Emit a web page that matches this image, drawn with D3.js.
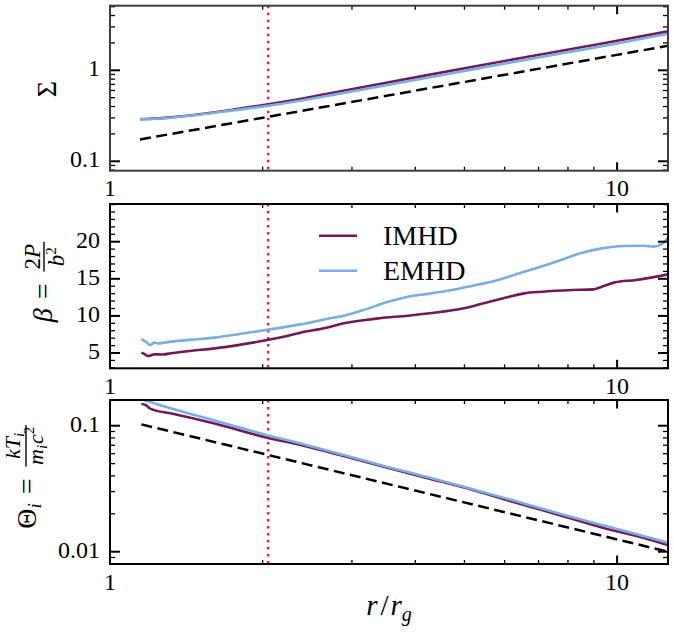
<!DOCTYPE html>
<html><head><meta charset="utf-8">
<script src="https://cdn.jsdelivr.net/npm/d3@7"></script>
<style>
body{margin:0;background:#fff}
svg{display:block}
text{font-family:"Liberation Serif","DejaVu Serif",serif;fill:#000}
</style>
</head><body>
<svg id="c" width="674" height="640" font-family="Liberation Serif, DejaVu Serif, serif"></svg>
<script>
// ---------------- data ----------------
const xMajor = [1, 10];
const xMinor = [2, 3, 4, 5, 6, 7, 8, 9];
const xTickLabels = ["1", "10"];
const rIsco = 2.05;

// Surface density Sigma
const sigmaR    = [1.146, 1.2, 1.3, 1.5, 1.75, 2.05, 2.4, 2.75, 3.4, 4.2, 5.36, 6.5, 8.44, 10, 12.6];
const sigmaIMHD = [0.290, 0.293, 0.302, 0.329, 0.370, 0.423, 0.491, 0.567, 0.708, 0.880, 1.129, 1.372, 1.781, 2.11, 2.68];
const sigmaEMHD = [0.292, 0.291, 0.299, 0.325, 0.363, 0.408, 0.469, 0.537, 0.665, 0.825, 1.057, 1.284, 1.666, 1.973, 2.52];
const sigmaRefR = [1.146, 2.05, 12.6];
const sigmaRef  = [0.174, 0.308, 1.86];
const sigmaMajor = [0.1, 1];
const sigmaMinor = [0.08, 0.09, 0.2, 0.3, 0.4, 0.5, 0.6, 0.7, 0.8, 0.9, 2, 3, 4, 5];
const sigmaTickLabels = ["0.1", "1"];

// Plasma beta
const betaR_IMHD = [1.153, 1.17, 1.188, 1.223, 1.27, 1.33, 1.45, 1.608, 1.8, 2.03, 2.2, 2.377, 2.67, 2.89, 3.19, 3.38, 3.87, 4.27, 4.99, 5.51, 6.07, 6.56, 7.11, 8.15, 8.97, 9.33, 9.89, 10.9, 12.6];
const betaIMHD   = [5.05, 4.85, 4.6, 4.82, 4.8, 5.0, 5.3, 5.63, 6.1, 6.71, 7.2, 7.74, 8.41, 9.0, 9.45, 9.67, 10.03, 10.35, 11.02, 11.78, 12.5, 13.04, 13.26, 13.49, 13.58, 13.94, 14.52, 14.84, 15.6];
const betaR_EMHD = [1.153, 1.176, 1.2, 1.223, 1.245, 1.32, 1.45, 1.608, 1.8, 2.03, 2.377, 2.67, 2.89, 3.19, 3.51, 3.87, 4.27, 4.72, 5.19, 5.73, 6.32, 6.96, 7.68, 8.46, 9.33, 10.3, 11.3, 11.8, 12.3, 12.6];
const betaEMHD   = [6.89, 6.53, 6.08, 6.4, 6.3, 6.53, 6.8, 7.07, 7.55, 8.1, 8.86, 9.58, 10.03, 10.88, 11.83, 12.59, 13.0, 13.49, 14.07, 14.7, 15.6, 16.5, 17.44, 18.43, 19.1, 19.42, 19.46, 19.33, 19.78, 20.54];
const betaMajor = [5, 10, 15, 20];
const betaMinor = [3, 4, 6, 7, 8, 9, 11, 12, 13, 14, 16, 17, 18, 19, 21, 22, 23, 24, 25];
const betaTickLabels = ["5", "10", "15", "20"];

// Ion temperature Theta_i
const thetaR    = [1.153, 1.176, 1.199, 1.223, 1.322, 1.608, 2.05, 2.377, 2.89, 3.51, 4.27, 5.19, 6.32, 7.68, 9.33, 11.35, 12.6];
const thetaIMHD = [0.1486, 0.146, 0.137, 0.133, 0.125, 0.104, 0.080, 0.0703, 0.0575, 0.0467, 0.0380, 0.0309, 0.0245, 0.0196, 0.0156, 0.0128, 0.0113];
const thetaEMHD = [0.162, 0.158, 0.155, 0.151, 0.137, 0.110, 0.0838, 0.0724, 0.0585, 0.0473, 0.0387, 0.0313, 0.0252, 0.0201, 0.0163, 0.0132, 0.0118];
const thetaRefR = [1.153, 2.05, 12.6];
const thetaRef  = [0.1025, 0.0586, 0.0100];
const thetaMajor = [0.01, 0.1];
const thetaMinor = [0.009, 0.02, 0.03, 0.04, 0.05, 0.06, 0.07, 0.08, 0.09];
const thetaTickLabels = ["0.01", "0.1"];

const seriesNames = ["IMHD", "EMHD"];
const colIMHD = "#721a58";
const colEMHD = "#79aee3";
const FONT = "Liberation Serif, DejaVu Serif, serif";

// ---------------- layout ----------------
const svg = d3.select("#c");
const X0 = 110, X1 = 668;
const x = d3.scaleLog().domain([1, 12.6]).range([X0, X1]);

const panels = [
  {id:"p1", top:5.7, bot:170.7, y:d3.scaleLog().domain([0.0788, 5.13]),
   major:sigmaMajor, minor:sigmaMinor, labels:sigmaTickLabels, frame:"#3d3d3d",
   series:[{r:sigmaR, v:sigmaIMHD, c:colIMHD},{r:sigmaR, v:sigmaEMHD, c:colEMHD}],
   ref:{r:sigmaRefR, v:sigmaRef}},
  {id:"p2", top:204, bot:368.3, y:d3.scaleLinear().domain([2.94, 25.08]),
   major:betaMajor, minor:betaMinor, labels:betaTickLabels, frame:"#000",
   series:[{r:betaR_IMHD, v:betaIMHD, c:colIMHD},{r:betaR_EMHD, v:betaEMHD, c:colEMHD}]},
  {id:"p3", top:400, bot:564, y:d3.scaleLog().domain([0.00799, 0.16]),
   major:thetaMajor, minor:thetaMinor, labels:thetaTickLabels, frame:"#000",
   series:[{r:thetaR, v:thetaIMHD, c:colIMHD},{r:thetaR, v:thetaEMHD, c:colEMHD}],
   ref:{r:thetaRefR, v:thetaRef}}
];

const defs = svg.append("defs");

panels.forEach(p => {
  const y = p.y.range([p.bot, p.top]);
  defs.append("clipPath").attr("id", "clip-" + p.id)
    .append("rect").attr("x", X0).attr("y", p.top).attr("width", X1 - X0).attr("height", p.bot - p.top);
  const g = svg.append("g");
  const cg = g.append("g").attr("clip-path", "url(#clip-" + p.id + ")");

  cg.append("line").attr("x1", x(rIsco)).attr("x2", x(rIsco)).attr("y1", p.top).attr("y2", p.bot)
    .attr("stroke", "#ff1e1e").attr("stroke-width", 2.4).attr("stroke-dasharray", "2.6 4.4");

  if (p.ref) {
    const line = d3.line().x((d,i) => x(p.ref.r[i])).y(d => y(d));
    cg.append("path").attr("d", line(p.ref.v)).attr("fill", "none")
      .attr("stroke", "#000").attr("stroke-width", 2.5).attr("stroke-dasharray", "11 5.5");
  }
  p.series.forEach(s => {
    const line = d3.line().x((d,i) => x(s.r[i])).y(d => y(d)).curve(d3.curveMonotoneX);
    cg.append("path").attr("d", line(s.v)).attr("fill", "none")
      .attr("stroke", s.c).attr("stroke-width", 2.6).attr("stroke-linejoin", "round");
  });

  const tk = g.append("g").attr("stroke", "#000");
  const yd = y.domain();
  const inY = v => v >= Math.min(...yd) && v <= Math.max(...yd);
  const addY = (vals, len, w) => vals.filter(inY).forEach(v => {
    tk.append("line").attr("x1", X0).attr("x2", X0 + len).attr("y1", y(v)).attr("y2", y(v)).attr("stroke-width", w);
    tk.append("line").attr("x1", X1 - len).attr("x2", X1).attr("y1", y(v)).attr("y2", y(v)).attr("stroke-width", w);
  });
  const addX = (vals, len, w) => vals.forEach(v => {
    tk.append("line").attr("x1", x(v)).attr("x2", x(v)).attr("y1", p.bot).attr("y2", p.bot - len).attr("stroke-width", w);
    tk.append("line").attr("x1", x(v)).attr("x2", x(v)).attr("y1", p.top).attr("y2", p.top + len).attr("stroke-width", w);
  });
  addY(p.major, 10, 2); addY(p.minor, 5, 1.3);
  addX(xMajor, 8.5, 2); addX(xMinor, 4, 1.3);

  g.append("rect").attr("x", X0).attr("y", p.top).attr("width", X1 - X0).attr("height", p.bot - p.top)
    .attr("fill", "none").attr("stroke", p.frame).attr("stroke-width", 2);

  p.major.forEach((v,i) => {
    g.append("text").attr("x", X0 - 10).attr("y", y(v) + 6).attr("text-anchor", "end")
      .attr("font-family", FONT).attr("font-size", 24).text(p.labels[i]);
  });
  xMajor.forEach((v,i) => {
    g.append("text").attr("x", x(v)).attr("y", p.bot + 25.5).attr("text-anchor", "middle")
      .attr("font-family", FONT).attr("font-size", 24).text(xTickLabels[i]);
  });
});

// ---------------- legend ----------------
const lg = svg.append("g");
[[colIMHD, 235.7, 245], [colEMHD, 270.7, 280]].forEach((d,i) => {
  lg.append("line").attr("x1", 319).attr("x2", 357).attr("y1", d[1]).attr("y2", d[1])
    .attr("stroke", d[0]).attr("stroke-width", 2.6);
  lg.append("text").attr("x", 383).attr("y", d[2]).attr("font-family", FONT).attr("font-size", 28).text(seriesNames[i]);
});

// ---------------- axis labels ----------------
svg.append("g").attr("transform", "translate(56,89) rotate(-90)")
  .append("text").attr("text-anchor", "middle").attr("font-family", FONT).attr("font-size", 28).text("Σ");

// helper: lay out [lhs] = [fraction] horizontally, then rotate
function fracLabel(tx, cy, buildLhs, buildNum, buildDen, opt) {
  const outer = svg.append("g").attr("transform", "translate(" + tx + "," + cy + ") rotate(-90)");
  const g = outer.append("g").attr("font-family", FONT);
  const lhs = g.append("text").attr("font-size", 28);
  buildLhs(lhs);
  let w = lhs.node().getComputedTextLength() + opt.gap1;
  const eq = g.append("text").attr("font-size", 28).attr("x", w).text("=");
  w += eq.node().getComputedTextLength() + opt.gap2;
  const num = g.append("text").attr("font-size", opt.fs).attr("text-anchor", "middle").attr("y", opt.numY);
  buildNum(num);
  const den = g.append("text").attr("font-size", opt.fs).attr("text-anchor", "middle").attr("y", opt.denY);
  buildDen(den);
  const fw = Math.max(num.node().getComputedTextLength(), den.node().getComputedTextLength()) + 4;
  num.attr("x", w + fw/2); den.attr("x", w + fw/2);
  g.append("line").attr("x1", w).attr("x2", w + fw).attr("y1", opt.barY).attr("y2", opt.barY)
    .attr("stroke", "#000").attr("stroke-width", 1.4);
  const total = w + fw;
  g.attr("transform", "translate(" + (-total/2) + ",0)");
}

// beta = 2P / b^2
fracLabel(52, 282,
  t => { t.append("tspan").attr("font-style", "italic").text("β"); },
  t => { t.append("tspan").text("2"); t.append("tspan").attr("font-style", "italic").text("P"); },
  t => { t.append("tspan").attr("font-style", "italic").text("b");
         t.append("tspan").attr("font-size", 15).attr("dy", -8).text("2"); },
  {gap1: 9, gap2: 12, fs: 23, numY: -12, denY: 12, barY: -8});

// Theta_i = kT_i / (m_i c^2)
fracLabel(36, 477,
  t => { t.append("tspan").text("Θ");
         t.append("tspan").attr("font-style", "italic").attr("font-size", 19).attr("dy", 5).text("i"); },
  t => { t.append("tspan").attr("font-style", "italic").text("kT");
         t.append("tspan").attr("font-style", "italic").attr("font-size", 15).attr("dy", 4).text("i"); },
  t => { t.append("tspan").attr("font-style", "italic").text("m");
         t.append("tspan").attr("font-style", "italic").attr("font-size", 15).attr("dy", 4).text("i");
         t.append("tspan").attr("font-style", "italic").attr("dx", 1).attr("dy", -4).text("c");
         t.append("tspan").attr("font-size", 15).attr("dy", -9).text("2"); },
  {gap1: 9, gap2: 12, fs: 22, numY: -16, denY: 7, barY: -10});

// x label r / r_g
(function(){
  const t = svg.append("text").attr("x", 389).attr("y", 615).attr("text-anchor", "middle")
    .attr("font-family", FONT).attr("font-size", 29);
  t.append("tspan").attr("font-style", "italic").text("r");
  t.append("tspan").attr("dx", 3).text("/");
  t.append("tspan").attr("dx", 2).attr("font-style", "italic").text("r");
  t.append("tspan").attr("font-style", "italic").attr("font-size", 20).attr("dy", 6).text("g");
})();
</script>
</body></html>
